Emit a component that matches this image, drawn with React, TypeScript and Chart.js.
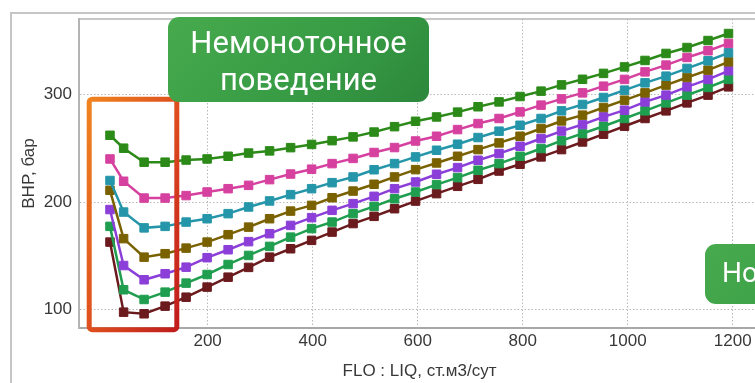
import React, { useEffect, useRef } from "react";
import { Chart, registerables } from "chart.js";

Chart.register(...registerables);

// Flow rate (FLO : LIQ, ст.м3/сут) for each computed point
const flowRates = [14, 40, 79, 119, 159, 199, 239, 278, 318, 358, 398, 437, 477, 517, 556, 596, 636, 676, 715, 755, 795, 835, 874, 914, 954, 994, 1033, 1073, 1113, 1153, 1192];

// BHP, бар — one curve per parameter value (top to bottom)
const curveGreen = [262, 250, 237, 237, 239, 240, 242.5, 245.5, 247.5, 250.5, 253.5, 257, 260.5, 265, 270, 275, 279, 283.5, 288.5, 293, 298, 303, 308.8, 314, 319.5, 325.5, 331.5, 338, 343.5, 350, 356.5];
const curveMagenta = [240, 219.3, 203.7, 203.7, 206, 209.3, 212.4, 215.5, 220.8, 226, 230.5, 235.7, 240.5, 246, 250.6, 256.7, 261.1, 267.3, 272.9, 277.6, 283.7, 290, 295.8, 301.4, 307.6, 313.9, 320.9, 327.2, 334.3, 340.5, 347.3];
const curveTeal = [220, 190.7, 176, 177.4, 181.4, 184.5, 189.2, 195.4, 201, 206.9, 212.4, 218, 223.3, 230, 235.7, 241.9, 248.1, 253.7, 259.9, 265.8, 271.3, 277.6, 284.7, 290.6, 297.1, 303.9, 310.7, 316.9, 324.1, 331.2, 338.6];
const curveOlive = [210.9, 166, 148.8, 152, 157.2, 162.8, 169.7, 176.7, 184.5, 191.6, 196.9, 204, 210.2, 216.5, 223.3, 230.1, 236.3, 242.5, 248.7, 254.9, 261.1, 268.3, 275.3, 280.7, 287.8, 294.6, 301.4, 308.6, 315.7, 322.5, 330.2];
const curvePurple = [193, 141, 127.8, 133.4, 139.5, 148.3, 155.7, 163.2, 170.6, 178.3, 185.5, 192.3, 198.5, 205.3, 212.4, 218.6, 225.8, 232, 238.8, 245, 251.8, 259, 265.9, 272, 279.1, 285.3, 293, 299.3, 307, 313.9, 321.9];
const curveGreen2 = [177.4, 118.5, 109.5, 116.3, 124.7, 132.7, 142, 150.4, 158.8, 167.4, 175.3, 181.4, 189.2, 196, 203, 209.3, 216.2, 222.7, 229.5, 235.7, 242.5, 249.7, 257, 263.6, 270.4, 277.6, 284.7, 292.1, 299.3, 306.4, 313.9];
const curveMaroon = [162.8, 97.7, 96.2, 103.3, 111.6, 121, 130.2, 139.3, 148.8, 156.6, 164.4, 172.1, 180, 186.7, 193.8, 200.9, 207.8, 214.6, 221.1, 228.8, 235.1, 241.9, 248.7, 255.8, 263, 270.4, 277.6, 284.7, 292.1, 299.3, 307];

const curves = [curveGreen, curveMagenta, curveTeal, curveOlive, curvePurple, curveGreen2, curveMaroon];
const curveColors = ["#2b8a18", "#d6409f", "#2596a9", "#7a6100", "#8b3fd8", "#1f9e4f", "#6b1a1d"];

const xTickValues = [200, 400, 600, 800, 1000, 1200];
const yTickValues = [100, 200, 300];

const xTitle = "FLO : LIQ, ст.м3/сут";
const yTitle = "BHP, бар";
const noteLeft = ["Немонотонное", "поведение"];
const noteRight = "Нормальное поведение";

const CANVAS_W = 780;
const CANVAS_H = 383;
const FONT = "'Liberation Sans', Arial, sans-serif";

export default function App() {
  const ref = useRef<HTMLCanvasElement | null>(null);

  useEffect(() => {
    const canvas = ref.current;
    if (!canvas) return;

    const framePlugin = {
      id: "frame",
      beforeDraw(chart: any) {
        const ctx = chart.ctx;
        ctx.save();
        ctx.fillStyle = "#ffffff";
        ctx.fillRect(0, 0, chart.width, chart.height);
        ctx.strokeStyle = "#c6c6c6";
        ctx.lineWidth = 2;
        ctx.beginPath();
        ctx.moveTo(11, chart.height);
        ctx.lineTo(11, 13);
        ctx.lineTo(chart.width, 13);
        ctx.stroke();
        ctx.restore();
      },
      beforeDatasetsDraw(chart: any) {
        const { ctx, chartArea } = chart;
        ctx.save();
        ctx.strokeStyle = "#b4b4b4";
        ctx.lineWidth = 1.5;
        ctx.beginPath();
        ctx.moveTo(chartArea.left, chartArea.top);
        ctx.lineTo(chartArea.right + 30, chartArea.top);
        ctx.stroke();
        ctx.restore();
      },
    };

    const chart = new Chart(canvas, {
      type: "line",
      data: {
        datasets: curves.map((vals, i) => ({
          data: flowRates.map((x, j) => ({ x, y: vals[j] })),
          borderColor: curveColors[i],
          backgroundColor: curveColors[i],
          pointBackgroundColor: curveColors[i],
          pointBorderColor: curveColors[i],
          borderWidth: 2.5,
          pointStyle: "rect",
          pointRadius: 6,
          pointBorderWidth: 1,
          tension: 0,
          fill: false,
        })),
      },
      options: {
        responsive: false,
        animation: false,
        devicePixelRatio: 1,
        layout: { padding: { top: 19, right: 20, left: 0, bottom: 0 } },
        plugins: {
          legend: { display: false },
          tooltip: { enabled: false },
        },
        scales: {
          x: {
            type: "linear",
            min: -45,
            max: 1252,
            afterFit: (s: any) => {
              s.height = 55;
            },
            afterBuildTicks: (s: any) => {
              s.ticks = xTickValues.map((v) => ({ value: v }));
            },
            grid: { color: "#b8b8b8", lineWidth: 1, drawTicks: false },
            border: { display: true, color: "#a8a8a8", width: 2, dash: [1.5, 2] },
            ticks: {
              color: "#383838",
              padding: 3.5,
              font: { family: FONT, size: 17, lineHeight: 1.2 },
              maxRotation: 0,
              callback: (v: any) => String(v),
            },
            title: {
              display: true,
              text: xTitle,
              color: "#383838",
              font: { family: FONT, size: 17, lineHeight: 1.2 },
              padding: { top: 0, bottom: 1 },
            },
          },
          y: {
            type: "linear",
            min: 83,
            max: 370,
            afterFit: (s: any) => {
              s.width = 79;
            },
            afterBuildTicks: (s: any) => {
              s.ticks = yTickValues.map((v) => ({ value: v }));
            },
            grid: { color: "#b8b8b8", lineWidth: 1, drawTicks: false },
            border: { display: true, color: "#b4b4b4", width: 2, dash: [1.5, 2] },
            ticks: {
              color: "#383838",
              padding: 7,
              font: { family: FONT, size: 17, lineHeight: 1.2 },
              callback: (v: any) => String(v),
            },
            title: {
              display: true,
              text: yTitle,
              color: "#383838",
              font: { family: FONT, size: 17, lineHeight: 1.2 },
              padding: { top: 19, bottom: 0 },
            },
          },
        },
      },
      plugins: [framePlugin],
    } as any);

    return () => {
      chart.destroy();
    };
  }, []);

  const labelFont = "Roboto, 'Noto Sans', sans-serif";

  return (
    <div
      style={{
        position: "fixed",
        left: 0,
        top: 0,
        width: 755,
        height: 383,
        overflow: "hidden",
        background: "#ffffff",
      }}
    >
      <canvas
        ref={ref}
        width={CANVAS_W}
        height={CANVAS_H}
        style={{ position: "absolute", left: 0, top: 0, width: CANVAS_W, height: CANVAS_H }}
      />
      <svg
        width={755}
        height={383}
        style={{ position: "absolute", left: 0, top: 0, pointerEvents: "none" }}
      >
        <defs>
          <linearGradient id="boxGrad" x1="0" y1="0" x2="1" y2="1">
            <stop offset="0%" stopColor="#f0831f" />
            <stop offset="55%" stopColor="#dc4a1e" />
            <stop offset="100%" stopColor="#c01c1c" />
          </linearGradient>
        </defs>
        <rect
          x={89.2}
          y={99.2}
          width={87.6}
          height={230.5}
          rx={3}
          ry={3}
          fill="none"
          stroke="url(#boxGrad)"
          strokeWidth={5}
        />
      </svg>
      <div
        style={{
          position: "absolute",
          left: 168,
          top: 17,
          width: 261,
          height: 85,
          borderRadius: 11,
          background: "linear-gradient(135deg, #47aa4d 0%, #389c45 55%, #2c883b 100%)",
        }}
      />
      <div
        style={{
          position: "absolute",
          left: 168,
          top: 24,
          width: 261,
          textAlign: "center",
          color: "#ffffff",
          fontFamily: labelFont,
          fontSize: 31,
          lineHeight: "37px",
          whiteSpace: "nowrap",
        }}
      >
        {noteLeft[0]}
        <br />
        {noteLeft[1]}
      </div>
      <div
        style={{
          position: "absolute",
          left: 705,
          top: 244,
          width: 330,
          height: 60,
          borderRadius: 11,
          background: "linear-gradient(135deg, #47aa4d 0%, #389c45 55%, #2c883b 100%)",
        }}
      />
      <div
        style={{
          position: "absolute",
          left: 722,
          top: 256,
          color: "#ffffff",
          fontFamily: labelFont,
          fontSize: 28,
          lineHeight: "34px",
          whiteSpace: "nowrap",
        }}
      >
        {noteRight}
      </div>
    </div>
  );
}
